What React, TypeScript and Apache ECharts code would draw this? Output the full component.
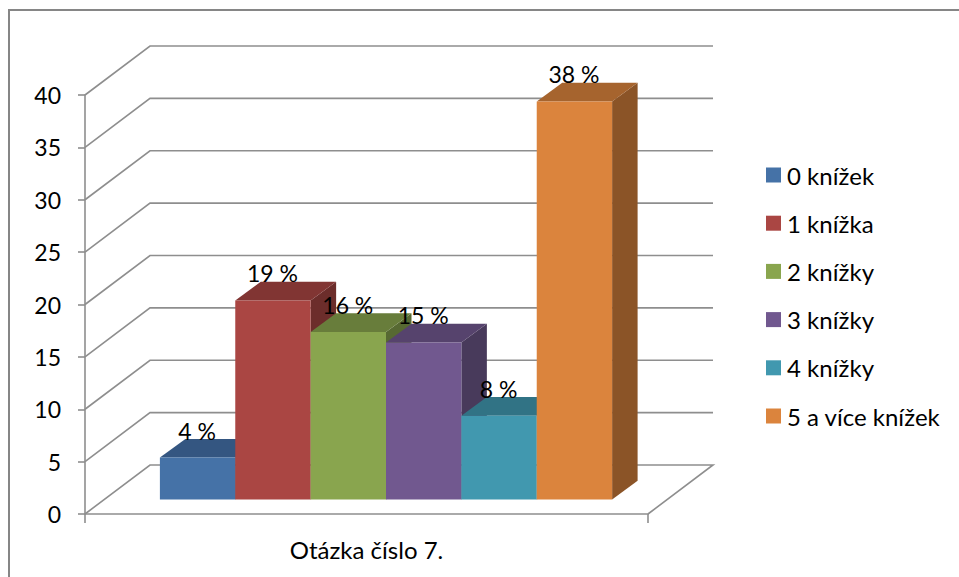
import React, { useEffect, useRef } from "react";
import * as echarts from "echarts";

const categoryLabels = ["Otázka číslo 7."];
const seriesNames = ["0 knížek", "1 knížka", "2 knížky", "3 knížky", "4 knížky", "5 a více knížek"];
const seriesValues = [4, 19, 16, 15, 8, 38];
const valueTicks = [0, 5, 10, 15, 20, 25, 30, 35, 40];
const frontColors = ["#4572A7", "#AA4643", "#89A54E", "#71588F", "#4198AF", "#DB843D"];
const topColors = ["#345681", "#813533", "#687D3B", "#56436D", "#317385", "#A6642E"];
const sideColors = ["#2C4869", "#6C2D2B", "#576932", "#483A5B", "#2A6070", "#8B5427"];

const FONT = "Lato, sans-serif";
const WALL = { x: 65, y: -49 };
const BAR_FRONT = { x: 19.5, y: -14.5 };
const BAR_DEPTH = { x: 25.5, y: -18.7 };
const LINE = "#8E8E8E";

function renderWall(params: any, api: any) {
  const value = api.value(0);
  const c = params.coordSys;
  const start = api.coord([0, value]);
  const left = c.x;
  const right = c.x + c.width;
  const y = start[1];
  const points = [[left, y], [left + WALL.x, y + WALL.y], [right + WALL.x, y + WALL.y]];
  if (value === 0) points.push([right, y]);
  return {
    type: "polyline",
    shape: { points },
    style: { stroke: LINE, fill: "none", lineWidth: 1.6 },
  };
}

function makeBarRenderer(index: number) {
  return (params: any, api: any) => {
    const value = api.value(1);
    const band = api.size([1, 0])[0];
    const w = band / 7.47;
    const centre = api.coord([0, 0]);
    const top = api.coord([0, value]);
    const x0 = centre[0] + BAR_FRONT.x + (index - 3) * w;
    const x1 = x0 + w;
    const yb = centre[1] + BAR_FRONT.y;
    const yt = top[1] + BAR_FRONT.y;
    const d = BAR_DEPTH;
    return {
      type: "group",
      children: [
        {
          type: "polygon",
          shape: { points: [[x1, yt], [x1 + d.x, yt + d.y], [x1 + d.x, yb + d.y], [x1, yb]] },
          style: { fill: sideColors[index] },
        },
        {
          type: "polygon",
          shape: { points: [[x0, yt], [x0 + d.x, yt + d.y], [x1 + d.x, yt + d.y], [x1, yt]] },
          style: { fill: topColors[index] },
        },
        { type: "rect", shape: { x: x0, y: yt, width: w, height: yb - yt }, style: { fill: frontColors[index] } },
        {
          type: "text",
          z2: 10,
          style: {
            x: x0 + w / 2 - 0.5,
            y: yt - 27,
            text: `${value} %`,
            font: `23px ${FONT}`,
            fill: "#000",
            align: "center",
            verticalAlign: "middle",
          },
        },
      ],
    };
  };
}

export default function App() {
  const ref = useRef<HTMLDivElement>(null);
  useEffect(() => {
    const chart = echarts.init(ref.current!, undefined, { renderer: "svg" });
    chart.setOption({
      animation: false,
      backgroundColor: "#fff",
      textStyle: { fontFamily: FONT },
      graphic: [
        {
          type: "polyline",
          silent: true,
          z: -1,
          shape: { points: [[9, 577], [9, 10], [959, 10]] },
          style: { fill: "none", stroke: "#868686", lineWidth: 2 },
        },
      ],
      grid: { left: 85, right: 311, top: 95, bottom: 63, containLabel: false },
      legend: {
        orient: "vertical",
        left: 766,
        top: 163,
        padding: 0,
        icon: "rect",
        itemWidth: 15,
        itemHeight: 15,
        itemGap: 24.2,
        selectedMode: false,
        data: seriesNames,
        textStyle: { fontFamily: FONT, fontSize: 24, color: "#000", padding: [0, 0, 4, 1] },
      },
      xAxis: {
        type: "category",
        data: categoryLabels,
        axisLine: { lineStyle: { color: LINE, width: 1.6 } },
        axisTick: { show: true, length: 9, lineStyle: { color: LINE, width: 1.6 } },
        axisLabel: { color: "#000", fontFamily: FONT, fontSize: 24, margin: 23 },
      },
      yAxis: {
        type: "value",
        min: 0,
        max: 40,
        interval: 5,
        splitLine: { show: false },
        axisLine: { show: true, lineStyle: { color: LINE, width: 1.6 } },
        axisTick: { show: true, length: 7, lineStyle: { color: LINE, width: 1.6 } },
        axisLabel: { color: "#000", fontFamily: FONT, fontSize: 23, margin: 24, padding: [3, 0, 0, 0] },
      },
      series: [
        {
          type: "custom",
          name: "wall",
          silent: true,
          renderItem: renderWall,
          encode: { y: 0 },
          data: valueTicks.map((v) => [v]),
          clip: false,
        },
        ...seriesNames.map((name, i) => ({
          type: "custom",
          name,
          silent: true,
          itemStyle: { color: frontColors[i] },
          renderItem: makeBarRenderer(i),
          encode: { x: 0, y: 1 },
          data: [[0, seriesValues[i]]],
          clip: false,
        })),
      ],
    });
    return () => chart.dispose();
  }, []);
  return <div ref={ref} style={{ position: "fixed", left: 0, top: 0, width: 959, height: 577 }} />;
}
